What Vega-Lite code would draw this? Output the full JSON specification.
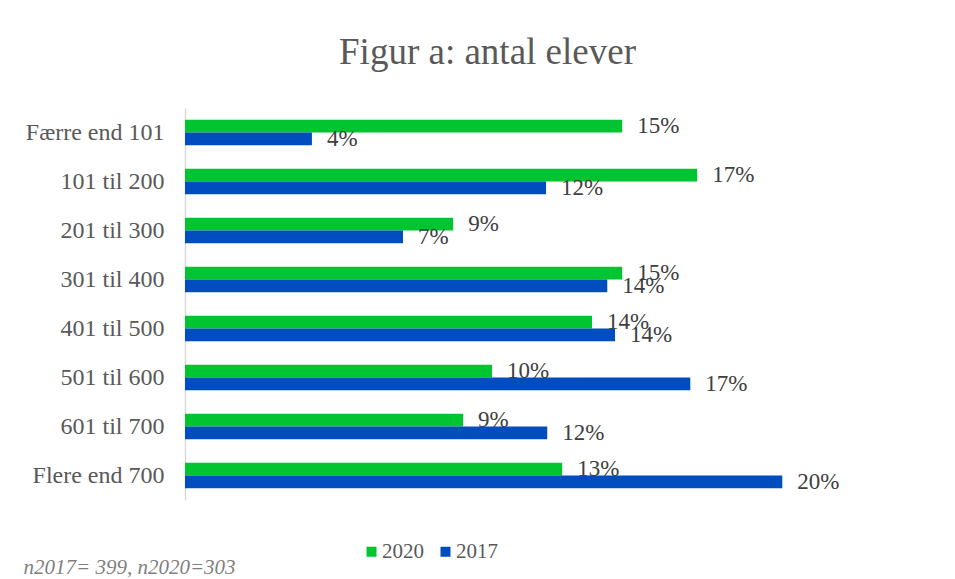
{
  "$schema": "https://vega.github.io/schema/vega-lite/v6.json",
  "width": 657,
  "height": 392,
  "autosize": {"type": "none"},
  "padding": {"left": 185, "top": 108, "right": 113, "bottom": 79},
  "background": "white",
  "title": {
    "text": "Figur a: antal elever",
    "font": "Liberation Serif",
    "fontSize": 37,
    "fontWeight": "normal",
    "color": "#595959",
    "anchor": "middle",
    "frame": "group",
    "dx": -26,
    "baseline": "alphabetic",
    "offset": 7
  },
  "data": {
    "values": [
      {"kategori": "Færre end 101", "aar": "2020", "andel": 0.1464},
      {"kategori": "Færre end 101", "aar": "2017", "andel": 0.0425},
      {"kategori": "101 til 200", "aar": "2020", "andel": 0.1715},
      {"kategori": "101 til 200", "aar": "2017", "andel": 0.1209},
      {"kategori": "201 til 300", "aar": "2020", "andel": 0.0898},
      {"kategori": "201 til 300", "aar": "2017", "andel": 0.0730},
      {"kategori": "301 til 400", "aar": "2020", "andel": 0.1464},
      {"kategori": "301 til 400", "aar": "2017", "andel": 0.1414},
      {"kategori": "401 til 500", "aar": "2020", "andel": 0.1363},
      {"kategori": "401 til 500", "aar": "2017", "andel": 0.1440},
      {"kategori": "501 til 600", "aar": "2020", "andel": 0.1028},
      {"kategori": "501 til 600", "aar": "2017", "andel": 0.1692},
      {"kategori": "601 til 700", "aar": "2020", "andel": 0.0931},
      {"kategori": "601 til 700", "aar": "2017", "andel": 0.1213},
      {"kategori": "Flere end 700", "aar": "2020", "andel": 0.1263},
      {"kategori": "Flere end 700", "aar": "2017", "andel": 0.2000}
    ]
  },
  "encoding": {
    "y": {
      "field": "kategori",
      "type": "nominal",
      "sort": null,
      "scale": {"paddingInner": 0.475, "paddingOuter": 0.2375},
      "axis": {
        "title": null,
        "domain": true,
        "domainColor": "#D9D9D9",
        "domainWidth": 1.5,
        "ticks": false,
        "labelPadding": 21,
        "labelFont": "Liberation Serif",
        "labelFontSize": 24,
        "labelColor": "#595959"
      }
    },
    "yOffset": {
      "field": "aar",
      "type": "nominal",
      "sort": ["2020", "2017"],
      "scale": {"paddingInner": 0, "paddingOuter": 0}
    },
    "x": {
      "field": "andel",
      "type": "quantitative",
      "scale": {"domain": [0, 0.22], "nice": false},
      "axis": {
        "labels": false,
        "ticks": false,
        "domain": false,
        "grid": false,
        "title": "n2017= 399, n2020=303",
        "titleFont": "Liberation Serif",
        "titleFontSize": 21,
        "titleFontStyle": "italic",
        "titleFontWeight": "normal",
        "titleColor": "#7F7F7F",
        "titleAlign": "left",
        "titleBaseline": "alphabetic",
        "titleAnchor": "start",
        "titleX": -162,
        "titleY": 73
      }
    }
  },
  "layer": [
    {
      "mark": {"type": "bar"},
      "encoding": {
        "color": {
          "field": "aar",
          "type": "nominal",
          "scale": {"domain": ["2020", "2017"], "range": ["#00C531", "#004DBF"]},
          "legend": {
            "title": null,
            "orient": "none",
            "direction": "horizontal",
            "legendX": 176,
            "legendY": 433,
            "padding": 0,
            "symbolType": "square",
            "symbolSize": 100,
            "symbolStrokeWidth": 0,
            "symbolOpacity": 1,
            "labelFont": "Liberation Serif",
            "labelFontSize": 21,
            "labelColor": "#595959",
            "labelOffset": 0,
            "columnPadding": 11
          }
        }
      }
    },
    {
      "mark": {
        "type": "text",
        "align": "left",
        "baseline": "middle",
        "dx": 15,
        "font": "Liberation Serif",
        "fontSize": 23,
        "color": "#404040"
      },
      "encoding": {
        "text": {"field": "andel", "type": "quantitative", "format": ".0%"}
      }
    }
  ],
  "config": {
    "view": {"stroke": null}
  }
}
